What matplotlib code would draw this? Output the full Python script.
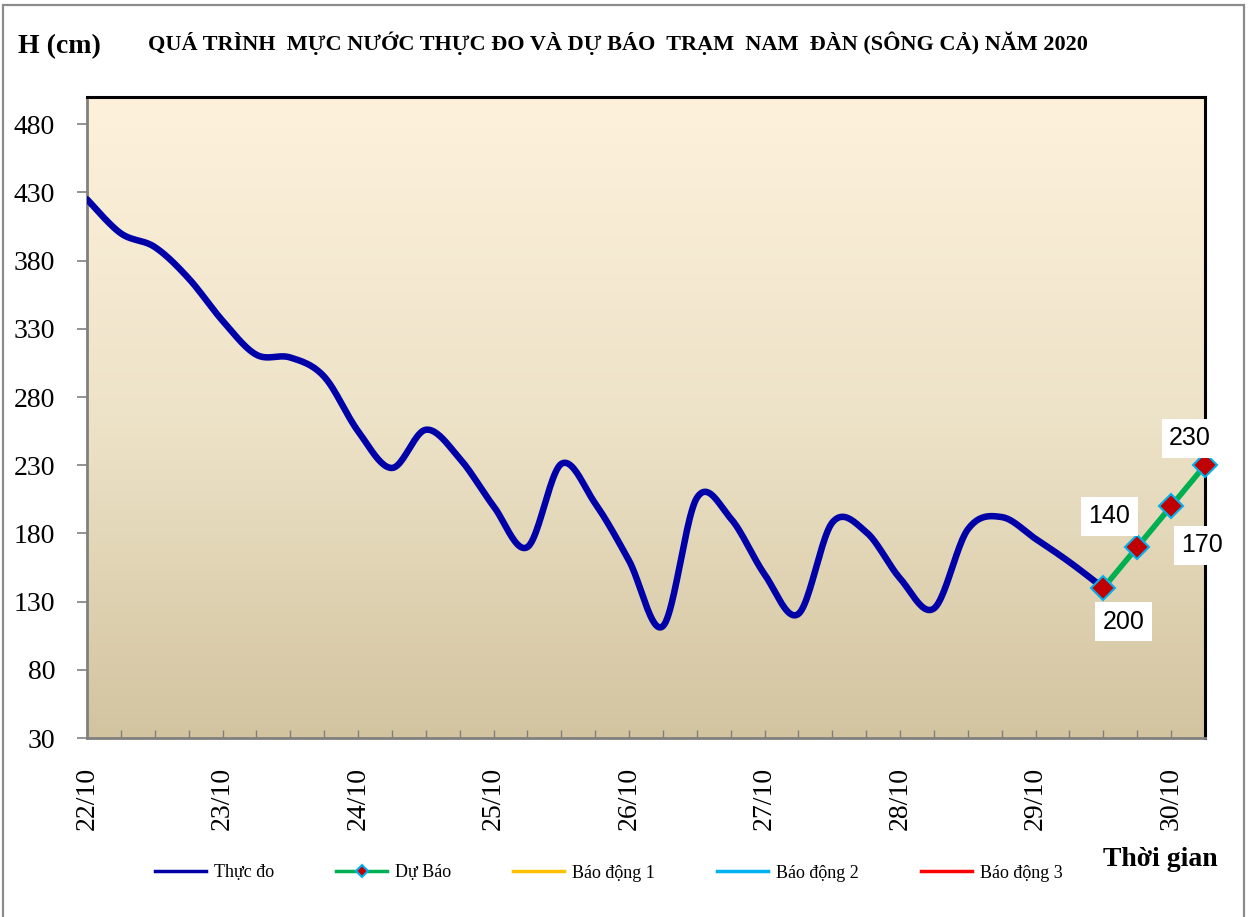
import numpy as np
import matplotlib
matplotlib.use("Agg")
import matplotlib.pyplot as plt
from matplotlib.lines import Line2D
from matplotlib.patches import Rectangle
from matplotlib.colors import LinearSegmentedColormap

# ---------------- data ----------------
obs_hours = [0, 6, 12, 18, 24, 30, 36, 42, 48, 54, 60, 66, 72, 78, 84, 90,
             96, 102, 108, 114, 120, 126, 132, 138, 144, 150, 156, 162, 168, 174, 180]
obs_values = [425, 400, 390, 367, 336, 311, 309, 295, 255, 228, 256, 235, 200, 170, 231, 202,
              160, 112, 206, 191, 150, 121, 188, 181, 147, 125, 183, 192, 176, 159, 140]
fc_hours = [180, 186, 192, 198]
fc_values = [140, 170, 200, 230]
fc_labels = ["200", "140", "170", "230"]
alarm_levels = [540, 690, 790]
alarm_names = ["Báo động 1", "Báo động 2", "Báo động 3"]
day_labels = ["22/10", "23/10", "24/10", "25/10", "26/10", "27/10", "28/10", "29/10", "30/10"]
y_ticks = [30, 80, 130, 180, 230, 280, 330, 380, 430, 480]

SERIF = ["Liberation Serif", "DejaVu Serif"]
SANS = ["Liberation Sans", "DejaVu Sans"]


def catmull_rom(x, y, n=24):
    x = np.asarray(x, float)
    y = np.asarray(y, float)
    px = np.concatenate([[x[0]], x, [x[-1]]])
    py = np.concatenate([[y[0]], y, [y[-1]]])
    xs, ys = [], []
    t = np.linspace(0, 1, n, endpoint=False)
    for i in range(1, len(px) - 2):
        p0, p1, p2, p3 = px[i - 1], px[i], px[i + 1], px[i + 2]
        q0, q1, q2, q3 = py[i - 1], py[i], py[i + 1], py[i + 2]
        def cr(a0, a1, a2, a3):
            return 0.5 * ((2 * a1) + (-a0 + a2) * t + (2 * a0 - 5 * a1 + 4 * a2 - a3) * t ** 2
                          + (-a0 + 3 * a1 - 3 * a2 + a3) * t ** 3)
        xs.append(cr(p0, p1, p2, p3))
        ys.append(cr(q0, q1, q2, q3))
    xs.append([x[-1]])
    ys.append([y[-1]])
    return np.concatenate(xs), np.concatenate(ys)


W, H = 1249, 917
fig = plt.figure(figsize=(W / 100, H / 100), dpi=100)
fig.patch.set_facecolor("white")
L, R, T, B = 87, 1205, 97, 738
ax = fig.add_axes([L / W, 1 - B / H, (R - L) / W, (B - T) / H])

# gradient background
cmap = LinearSegmentedColormap.from_list("bg", ["#D3C4A0", "#EDE3C8", "#FEF1DC"])
grad = np.linspace(0, 1, 256).reshape(-1, 1)
ax.imshow(grad, cmap=cmap, aspect="auto", extent=[0, 1, 0, 1], origin="lower",
          transform=ax.transAxes, zorder=0)

alarm_colors = ["#FFC000", "#00B0F0", "#FF0000"]
for lvl, col in zip(alarm_levels, alarm_colors):
    ax.plot([obs_hours[0], fc_hours[-1]], [lvl, lvl], color=col, lw=2, zorder=2)

sx, sy = catmull_rom(obs_hours, obs_values)
ax.plot(sx, sy, color="#0000A8", lw=4.7, solid_capstyle="round", zorder=3)

ax.plot(fc_hours, fc_values, color="#00B050", lw=4, zorder=4, clip_on=False,
        marker="D", markersize=12, markerfacecolor="#C00000",
        markeredgecolor="#00B0F0", markeredgewidth=1.5)

offsets_px = [(20, -34), (-28, 31), (31, -39), (-15, 27)]
for xh, v, lab, (dx, dy) in zip(fc_hours, fc_values, fc_labels, offsets_px):
    ax.annotate(lab, (xh, v), xytext=(dx * 0.72, dy * 0.72), textcoords="offset points",
                ha="center", va="center", fontsize=18, family=SANS, zorder=6,
                bbox=dict(boxstyle="square,pad=0.3", fc="white", ec="none"),
                annotation_clip=False)

ax.set_xlim(0, 198)
ax.set_ylim(30, 500)
ax.set_xticks(np.arange(0, 199, 6))
ax.set_xticklabels([day_labels[i // 4] if i % 4 == 0 and i // 4 < len(day_labels) else ""
                    for i in range(len(np.arange(0, 199, 6)))])
ax.set_yticks(y_ticks)
ax.set_yticklabels([str(v) for v in y_ticks])
ax.tick_params(axis="x", direction="in", length=6, width=1, color="#808080",
               pad=21, labelsize=20, labelrotation=90)
ax.tick_params(axis="y", direction="out", length=7, width=1.2, color="#808080",
               pad=16, labelsize=20)
for lbl in ax.get_xticklabels() + ax.get_yticklabels():
    lbl.set_family(SERIF)
for lbl in ax.get_xticklabels():
    lbl.set_va("top")

ax.spines["left"].set_color("#808080")
ax.spines["bottom"].set_color("#808080")
ax.spines["left"].set_linewidth(2)
ax.spines["bottom"].set_linewidth(2)
ax.spines["top"].set_color("black")
ax.spines["right"].set_color("black")
ax.spines["top"].set_linewidth(2.2)
ax.spines["right"].set_linewidth(2.2)

# texts
fig.text(18 / W, 1 - 47 / H, "H (cm)", ha="left", va="center", fontsize=20,
         fontweight="bold", family=SERIF)
fig.text(148 / W, 1 - 43 / H,
         "QUÁ TRÌNH  MỰC NƯỚC THỰC ĐO VÀ DỰ BÁO  TRẠM  NAM  ĐÀN (SÔNG CẢ) NĂM 2020",
         ha="left", va="center", fontsize=16, fontweight="bold", family=SERIF)
fig.text(1103 / W, 1 - 860 / H, "Thời gian", ha="left", va="center", fontsize=20,
         fontweight="bold", family=SERIF)

# legend
handles = [Line2D([], [], color="#0000A8", lw=2.5),
           Line2D([], [], color="#00B050", lw=2.5, marker="D", markersize=6,
                  markerfacecolor="#C00000", markeredgecolor="#00B0F0", markeredgewidth=1.5)]
handles += [Line2D([], [], color=c, lw=2.5) for c in alarm_colors]
names = ["Thực đo", "Dự Báo"] + alarm_names
fig.legend(handles, names, loc="center left", bbox_to_anchor=(148 / W, 1 - 873 / H),
           ncol=5, frameon=False, prop={"family": SERIF, "size": 13},
           handlelength=2.8, handletextpad=0.45, columnspacing=3.45, borderaxespad=0)

# outer frame
fig.patches.append(Rectangle((3 / W, -0.01), (1244 - 3) / W, 1.01 - 5 / H,
                             transform=fig.transFigure, fill=False,
                             edgecolor="#8C8C8C", lw=1.6))

fig.savefig("out.png", dpi=100)
